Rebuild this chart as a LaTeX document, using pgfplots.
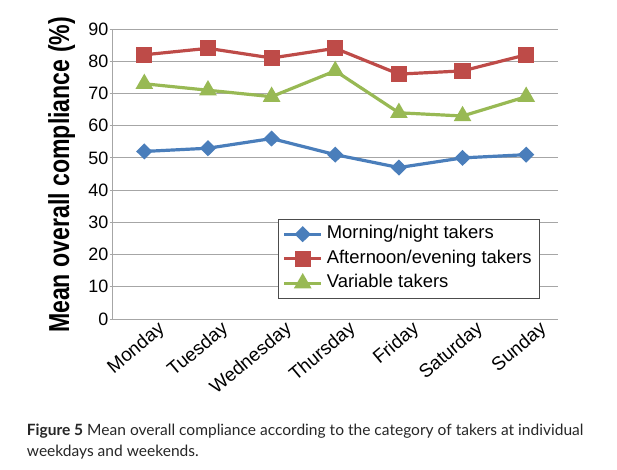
\documentclass[border=0pt]{standalone}
\usepackage{pgfplots}
\pgfplotsset{compat=1.18}
\usepackage{fontspec}
\setmainfont{Liberation Sans}
\newfontfamily\capfont{Lato}
\usepackage{graphicx}

\definecolor{cblue}{HTML}{4A7EBB}
\definecolor{cred}{HTML}{BE4B48}
\definecolor{cgreen}{HTML}{98B954}
\definecolor{cgrid}{HTML}{A6A6A6}

\pgfplotstableread{
day morning afternoon variable
0 52 82 73
1 53 84 71
2 56 81 69
3 51 84 77
4 47 76 64
5 50 77 63
6 51 82 69
}\compliance

\begin{document}
\begin{tikzpicture}
\path[use as bounding box] (0,0) rectangle (617bp,470bp);
\begin{axis}[
    at={(112.5bp,151bp)}, anchor=south west,
    scale only axis,
    width=445.5bp, height=290bp,
    xmin=-0.5, xmax=6.5,
    ymin=0, ymax=90,
    ytick distance=10,
    xtick=data,
    xticklabels={Monday,Tuesday,Wednesday,Thursday,Friday,Saturday,Sunday},
    axis lines=left,
    axis line style={-, draw=cgrid, line width=0.8bp},
    ymajorgrids,
    grid style={draw=cgrid, line width=0.8bp},
    tick align=outside,
    major tick length=3bp,
    ytick style={draw=cgrid, line width=0.8bp},
    xtick style={draw=none},
    /pgf/number format/assume math mode=true,
    yticklabel style={font=\fontsize{18}{18}\selectfont, inner xsep=1bp},
    xticklabel style={font=\fontsize{19}{19}\selectfont, rotate=40, anchor=north east, xshift=14bp, yshift=-3bp},
    legend style={at={(0.372,0.345)}, anchor=north west,
        draw=black!70, line width=0.8bp, fill=white,
        font=\fontsize{18.5}{18.5}\selectfont,
        inner xsep=4bp, inner ysep=2.6bp,
        nodes={inner xsep=4bp, inner ysep=3.5bp, text height=13.5bp, text depth=4bp}},
    legend cell align=left,
    legend image code/.code={\draw[mark repeat=2, mark phase=2, #1] plot coordinates {(0bp,0bp) (18.5bp,0bp) (37bp,0bp)};},
]
\addplot[cblue, line width=3.2bp, mark=diamond*, mark size=5.8bp, mark options={xscale=1.35}] table[x=day, y=morning] {\compliance};
\addlegendentry{Morning/night takers}
\addplot[cred, line width=3.2bp, mark=square*, mark size=6.5bp] table[x=day, y=afternoon] {\compliance};
\addlegendentry{Afternoon/evening takers}
\addplot[cgreen, line width=3.2bp, mark=triangle*, mark size=7bp] table[x=day, y=variable] {\compliance};
\addlegendentry{Variable takers}
\end{axis}
\node[rotate=90, anchor=base, inner sep=0pt] at (69bp,295bp)
    {\scalebox{0.8}[1]{\fontsize{29}{29}\selectfont\bfseries Mean overall compliance (\%)}};
\node[anchor=base west, inner sep=0pt, text=black!85] at (26.7bp,35bp)
    {\capfont\fontsize{15.6}{15.6}\selectfont\textbf{Figure 5} Mean overall compliance according to the category of takers at individual};
\node[anchor=base west, inner sep=0pt, text=black!85] at (26.7bp,14bp)
    {\capfont\fontsize{15.6}{15.6}\selectfont weekdays and weekends.};
\end{tikzpicture}
\end{document}
